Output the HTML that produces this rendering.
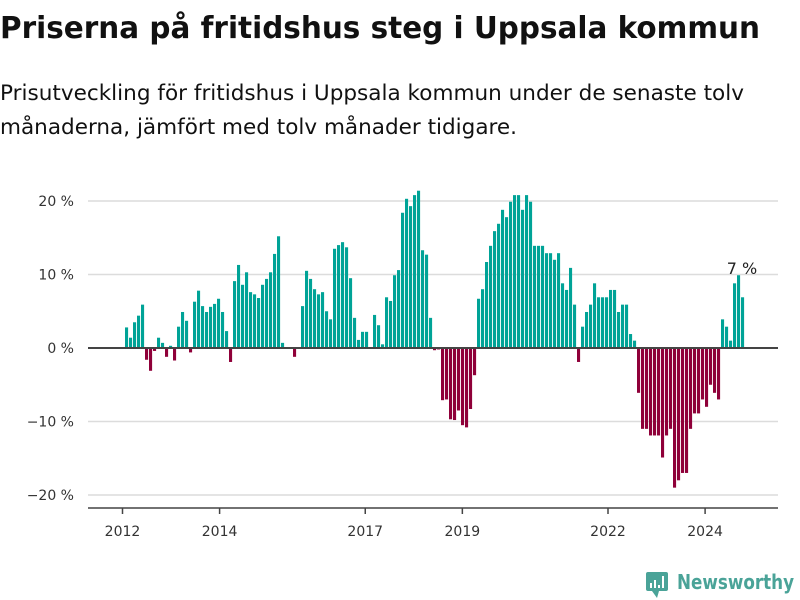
<!DOCTYPE html>
<html><head><meta charset="utf-8"><style>
html,body{margin:0;padding:0;background:#fff;width:800px;height:600px;overflow:hidden}
svg{display:block}
text{font-family:"DejaVu Sans","Liberation Sans",sans-serif}
</style></head><body>
<svg id="chart" width="800" height="600" viewBox="0 0 800 600">
<text x="0" y="38" font-size="30" font-weight="bold" fill="#111" textLength="760" lengthAdjust="spacingAndGlyphs">Priserna på fritidshus steg i Uppsala kommun</text>
<text x="0" y="100" font-size="21" fill="#111" textLength="744" lengthAdjust="spacingAndGlyphs">Prisutveckling för fritidshus i Uppsala kommun under de senaste tolv</text>
<text x="0" y="134" font-size="21" fill="#111" textLength="517" lengthAdjust="spacingAndGlyphs">månaderna, jämfört med tolv månader tidigare.</text>
<g id="grid"></g><g id="bars"></g><g id="axes"></g>
<g>
<rect x="646" y="572" width="22" height="19" rx="2" fill="#4aa398"/>
<path d="M652 591 L657 598 L659 591 Z" fill="#4aa398"/>
<rect x="650" y="583" width="2" height="5" fill="#fff"/><rect x="654" y="580" width="2" height="8" fill="#fff"/><rect x="658" y="585" width="2" height="3" fill="#fff"/><rect x="662" y="576" width="2" height="12" fill="#fff"/>
<text x="677" y="589" font-size="20" font-weight="bold" fill="#4aa398" textLength="117" lengthAdjust="spacingAndGlyphs">Newsworthy</text>
</g>
</svg>
<script>
const values=[2.8,1.4,3.5,4.4,5.9,-1.6,-3.1,-0.4,1.4,0.7,-1.2,0.3,-1.7,2.9,4.9,3.7,-0.6,6.3,7.8,5.7,4.9,5.6,6.0,6.7,4.9,2.3,-1.9,9.1,11.3,8.6,10.3,7.6,7.3,6.8,8.6,9.4,10.3,12.8,15.2,0.7,0,0,-1.2,0,5.7,10.5,9.4,8.0,7.3,7.6,5.0,3.9,13.5,14.0,14.4,13.7,9.5,4.1,1.1,2.2,2.2,0,4.5,3.1,0.5,6.9,6.4,9.9,10.6,18.4,20.3,19.3,20.8,21.4,13.3,12.7,4.1,-0.3,-0.2,-7.1,-7.0,-9.7,-9.8,-8.5,-10.5,-10.8,-8.3,-3.7,6.7,8.0,11.7,13.9,15.9,16.9,18.8,17.8,19.9,20.8,20.8,18.8,20.8,19.9,13.9,13.9,13.9,12.9,12.9,12.0,12.9,8.8,7.9,10.9,5.9,-1.9,2.9,4.9,5.9,8.8,6.9,6.9,6.9,7.9,7.9,4.9,5.9,5.9,1.9,1.0,-6.1,-11.0,-11.0,-11.9,-11.9,-11.9,-14.9,-11.9,-11.0,-19.0,-18.0,-17.0,-17.0,-11.0,-8.9,-8.9,-7.0,-8.0,-5.0,-6.1,-7.0,3.9,2.9,1.0,8.8,9.9,6.9];
const startYear=2012;
const tickYears=[2012,2014,2017,2019,2022,2024];
const yTicks=[20,10,0,-10,-20];
const lastLabel="7 %";
const NS="http://www.w3.org/2000/svg";
const step=4.0;
function x(i){return 125+i*step;}
function y(v){return 348-v*7.35;}
function mk(tag,attrs,parent){const e=document.createElementNS(NS,tag);for(const k in attrs)e.setAttribute(k,attrs[k]);parent.appendChild(e);return e;}
const grid=document.getElementById('grid'),bars=document.getElementById('bars'),axes=document.getElementById('axes');
yTicks.forEach(t=>{
 if(t!==0){const l=mk('line',{x1:88,x2:778,y1:y(t),y2:y(t),stroke:'#dcdcdc','stroke-width':1.5},grid);
 
 }
 const tx=mk('text',{x:74,y:y(t)+5,'text-anchor':'end','font-size':14,fill:'#333'},axes);
 tx.textContent=(t<0?'\u2212'+(-t):t)+' %';
 
 
});
values.forEach((v,i)=>{
 const r=mk('rect',{x:x(i),width:step-0.9,y:Math.min(y(v),y(0)),height:Math.abs(y(v)-y(0)),fill:v>=0?'#00a397':'#8f0039'},bars);
 
 
});
const zl=mk('line',{x1:88,x2:778,y1:y(0),y2:y(0),stroke:'#444','stroke-width':2},axes);


const xa=mk('line',{x1:88,x2:778,y1:508,y2:508,stroke:'#444','stroke-width':1.5},axes);


tickYears.forEach(yr=>{
 const px=x((yr-startYear)*12)-2.5+(yr-startYear)*0.55;
 const tk=mk('line',{x1:px,x2:px,y1:508,y2:514,stroke:'#444','stroke-width':1.5},axes);
 
 
 const t=mk('text',{x:px,y:536,'text-anchor':'middle','font-size':14,fill:'#333'},axes);
 t.textContent=yr;
 
 
});
const li=values.length-1;
const lab=mk('text',{x:x(li)+1,y:y(9.9)-1,'text-anchor':'middle','font-size':16,fill:'#222'},axes);
lab.textContent=lastLabel;


</script>
</body></html>
